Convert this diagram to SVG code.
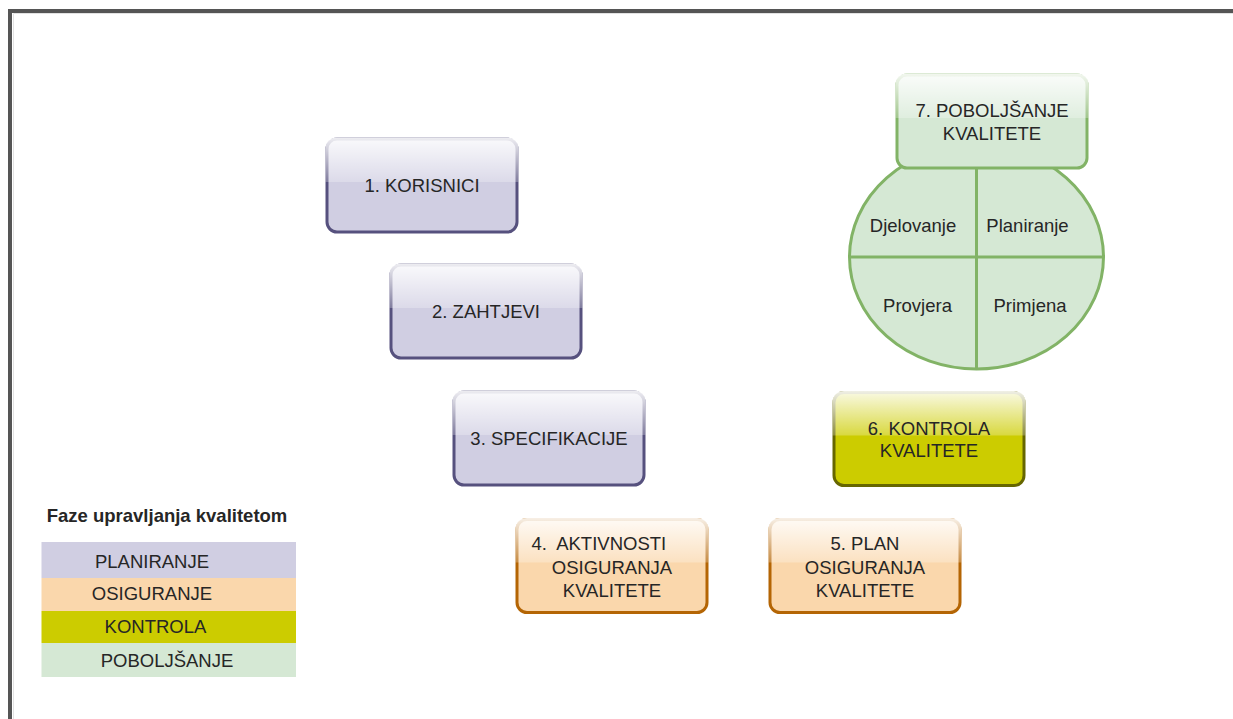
<svg xmlns="http://www.w3.org/2000/svg" xmlns:xlink="http://www.w3.org/1999/xlink" width="1233" height="719" viewBox="0 0 1233 719">
<style>
text{font-family:"Liberation Sans",Arial,Helvetica,sans-serif;font-size:18.5px;fill:#262626;text-anchor:middle}
.b{stroke-width:3}
.pl{fill:#d0cee2;stroke:#56517e}
.os{fill:#fad7ac;stroke:#b46504}
.ko{fill:#cccc00;stroke:#666600}
.po{fill:#d5e8d4;stroke:#82b366}
.title{font-weight:bold}
</style>
<defs>
<linearGradient id="gl" x1="0" y1="0" x2="0" y2="1">
<stop offset="0" stop-color="#fff" stop-opacity="0.9"/>
<stop offset="1" stop-color="#fff" stop-opacity="0.25"/>
</linearGradient>
<path id="glass" d="M-1.5,43 L-1.5,10 Q-1.5,-1.5 10,-1.5 L180,-1.5 Q191.5,-1.5 191.5,10 L191.5,43 Z" fill="url(#gl)"/>
</defs>
<rect width="1233" height="719" fill="#fff"/>
<rect x="10" y="11" width="1300" height="800" fill="none" stroke="#555" stroke-width="4"/>
<path d="M13.5,720 V13.5 H1240" fill="none" stroke="#e2e2e2" stroke-width="1"/>

<g id="connectors"></g>

<g id="node1" transform="translate(327,139)">
<rect class="b pl" width="190" height="93" rx="10"/><use xlink:href="#glass"/>
<text x="95" y="53">1. KORISNICI</text>
</g>
<g id="node2" transform="translate(391,265)">
<rect class="b pl" width="190" height="93" rx="10"/><use xlink:href="#glass"/>
<text x="95" y="53">2. ZAHTJEVI</text>
</g>
<g id="node3" transform="translate(454,392)">
<rect class="b pl" width="190" height="93" rx="10"/><use xlink:href="#glass"/>
<text x="95" y="53">3. SPECIFIKACIJE</text>
</g>
<g id="node4" transform="translate(517,519.5)">
<rect class="b os" width="190" height="93" rx="10"/><use xlink:href="#glass"/>
<text x="14.5" y="30" style="text-anchor:start" xml:space="preserve">4.  AKTIVNOSTI</text>
<text x="95" y="54">OSIGURANJA</text>
<text x="95" y="77">KVALITETE</text>
</g>
<g id="node5" transform="translate(770,519.5)">
<rect class="b os" width="190" height="93" rx="10"/><use xlink:href="#glass"/>
<text x="95" y="30">5. PLAN</text>
<text x="95" y="54">OSIGURANJA</text>
<text x="95" y="77">KVALITETE</text>
</g>
<g id="node6" transform="translate(834,392.5)">
<rect class="b ko" width="190" height="93" rx="10"/><use xlink:href="#glass"/>
<text x="95" y="42">6. KONTROLA</text>
<text x="95" y="64">KVALITETE</text>
</g>
<g id="pdca">
<ellipse cx="976.5" cy="257" rx="127" ry="112" fill="#d5e8d4" stroke="#82b366" stroke-width="3"/>
<line x1="976.5" y1="145" x2="976.5" y2="369" stroke="#82b366" stroke-width="3"/>
<line x1="849.5" y1="257" x2="1103.5" y2="257" stroke="#82b366" stroke-width="3"/>
<text x="913" y="231.5">Djelovanje</text>
<text x="1027.5" y="231.5">Planiranje</text>
<text x="917.5" y="311.5">Provjera</text>
<text x="1030" y="311.5">Primjena</text>
</g>
<g id="node7" transform="translate(897,75)">
<rect class="b po" width="190" height="93" rx="10"/><use xlink:href="#glass"/>
<text x="95" y="41.5">7. POBOLJŠANJE</text>
<text x="95" y="64.5">KVALITETE</text>
</g>

<g id="legend">
<text class="title" x="167" y="522">Faze upravljanja kvalitetom</text>
<rect x="41.5" y="542" width="254.5" height="36" fill="#d0cee2"/>
<rect x="41.5" y="578" width="254.5" height="33" fill="#fad7ac"/>
<rect x="41.5" y="611" width="254.5" height="32" fill="#cccc00"/>
<rect x="41.5" y="643" width="254.5" height="34" fill="#d5e8d4"/>
<text x="152" y="568">PLANIRANJE</text>
<text x="152" y="600">OSIGURANJE</text>
<text x="155.5" y="633">KONTROLA</text>
<text x="167" y="666.5">POBOLJŠANJE</text>
</g>
</svg>
